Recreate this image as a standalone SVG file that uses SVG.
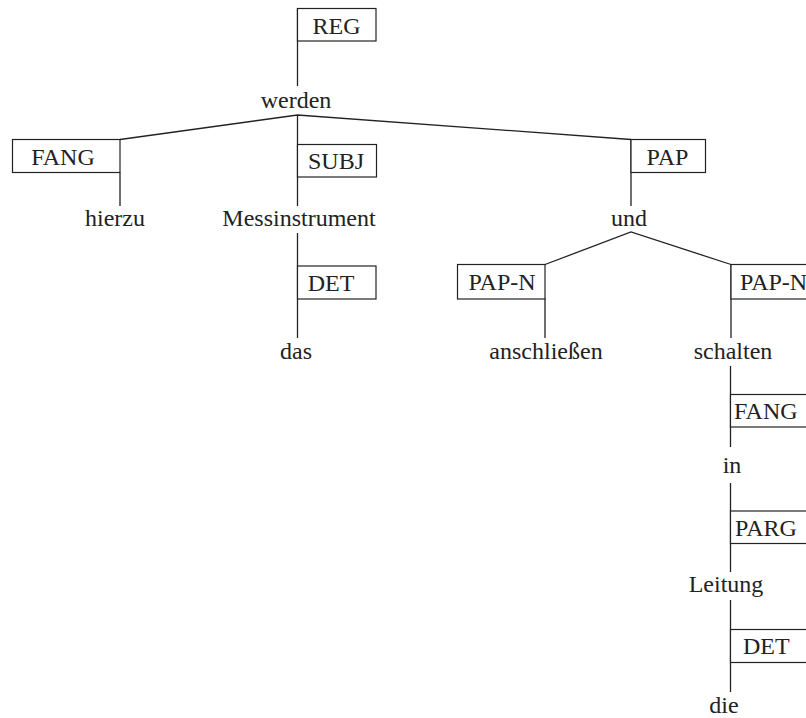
<svg xmlns="http://www.w3.org/2000/svg" width="806" height="718" viewBox="0 0 806 718">
<defs>
<style>
.box{fill:#fff;stroke:#222;stroke-width:1.2}
</style>
</defs>
<rect width="806" height="718" fill="#fff"/>
<g id="connectors" stroke="#222" stroke-width="1.3" fill="none">
<line x1="297.5" y1="8" x2="297.5" y2="86"/>
<polyline points="120,139.5 297.5,115 631,139.5"/>
<line x1="297.5" y1="115" x2="297.5" y2="206"/>
<line x1="120" y1="172.5" x2="120" y2="206"/>
<line x1="631" y1="139.5" x2="631" y2="206"/>
<line x1="297.5" y1="233" x2="297.5" y2="338"/>
<polyline points="545,264.5 631,232 731,264.5"/>
<line x1="545" y1="298.5" x2="545" y2="338"/>
<line x1="731" y1="264.5" x2="731" y2="338"/>
<line x1="730.5" y1="366" x2="730.5" y2="447"/>
<line x1="730.5" y1="483" x2="730.5" y2="572"/>
<line x1="730.5" y1="600" x2="730.5" y2="692"/>
</g>
<g font-family="'Liberation Serif', serif" font-size="24" fill="#222">
<g id="REG"><rect class="box" x="297.5" y="8.5" width="78.5" height="32.5"/><text style="font-family:'Liberation Serif',serif !important" text-anchor="middle" x="336.5" y="33.5">REG</text></g>
<g id="werden"><text style="font-family:'Liberation Serif',serif !important" text-anchor="middle" x="296" y="107.5">werden</text></g>
<g id="FANG1"><rect class="box" x="12.5" y="139.5" width="107.5" height="33"/><text style="font-family:'Liberation Serif',serif !important" text-anchor="middle" x="63" y="164.5">FANG</text></g>
<g id="hierzu"><text style="font-family:'Liberation Serif',serif !important" text-anchor="middle" x="115" y="226">hierzu</text></g>
<g id="SUBJ"><rect class="box" x="297.5" y="144.5" width="79" height="32.5"/><text style="font-family:'Liberation Serif',serif !important" text-anchor="middle" x="336" y="169">SUBJ</text></g>
<g id="Messinstrument"><text style="font-family:'Liberation Serif',serif !important" text-anchor="middle" x="299" y="226">Messinstrument</text></g>
<g id="DET1"><rect class="box" x="297.5" y="266" width="78.5" height="33"/><text style="font-family:'Liberation Serif',serif !important" text-anchor="middle" x="331" y="291">DET</text></g>
<g id="das"><text style="font-family:'Liberation Serif',serif !important" text-anchor="middle" x="296" y="359">das</text></g>
<g id="PAP"><rect class="box" x="631" y="139.5" width="74.5" height="33"/><text style="font-family:'Liberation Serif',serif !important" text-anchor="middle" x="667.5" y="164.5">PAP</text></g>
<g id="und"><text style="font-family:'Liberation Serif',serif !important" text-anchor="middle" x="629" y="226">und</text></g>
<g id="PAPN1"><rect class="box" x="457.5" y="264.5" width="87.5" height="34.5"/><text style="font-family:'Liberation Serif',serif !important" text-anchor="middle" x="502" y="290">PAP-N</text></g>
<g id="anschliessen"><text style="font-family:'Liberation Serif',serif !important" text-anchor="middle" x="546" y="359">anschließen</text></g>
<g id="PAPN2"><rect class="box" x="731" y="264.5" width="87.5" height="34.5"/><text style="font-family:'Liberation Serif',serif !important" x="740" y="290">PAP-N</text></g>
<g id="schalten"><text style="font-family:'Liberation Serif',serif !important" text-anchor="middle" x="733" y="359">schalten</text></g>
<g id="FANG2"><rect class="box" x="730.5" y="394.5" width="108" height="32.5"/><text style="font-family:'Liberation Serif',serif !important" x="734" y="419">FANG</text></g>
<g id="in"><text style="font-family:'Liberation Serif',serif !important" text-anchor="middle" x="732" y="473">in</text></g>
<g id="PARG"><rect class="box" x="730.5" y="511" width="100" height="32.5"/><text style="font-family:'Liberation Serif',serif !important" x="735" y="535.5">PARG</text></g>
<g id="Leitung"><text style="font-family:'Liberation Serif',serif !important" text-anchor="middle" x="726" y="592">Leitung</text></g>
<g id="DET2"><rect class="box" x="730.5" y="629.5" width="79" height="33"/><text style="font-family:'Liberation Serif',serif !important" x="743" y="654">DET</text></g>
<g id="die"><text style="font-family:'Liberation Serif',serif !important" text-anchor="middle" x="724" y="713">die</text></g>
</g>
</svg>
